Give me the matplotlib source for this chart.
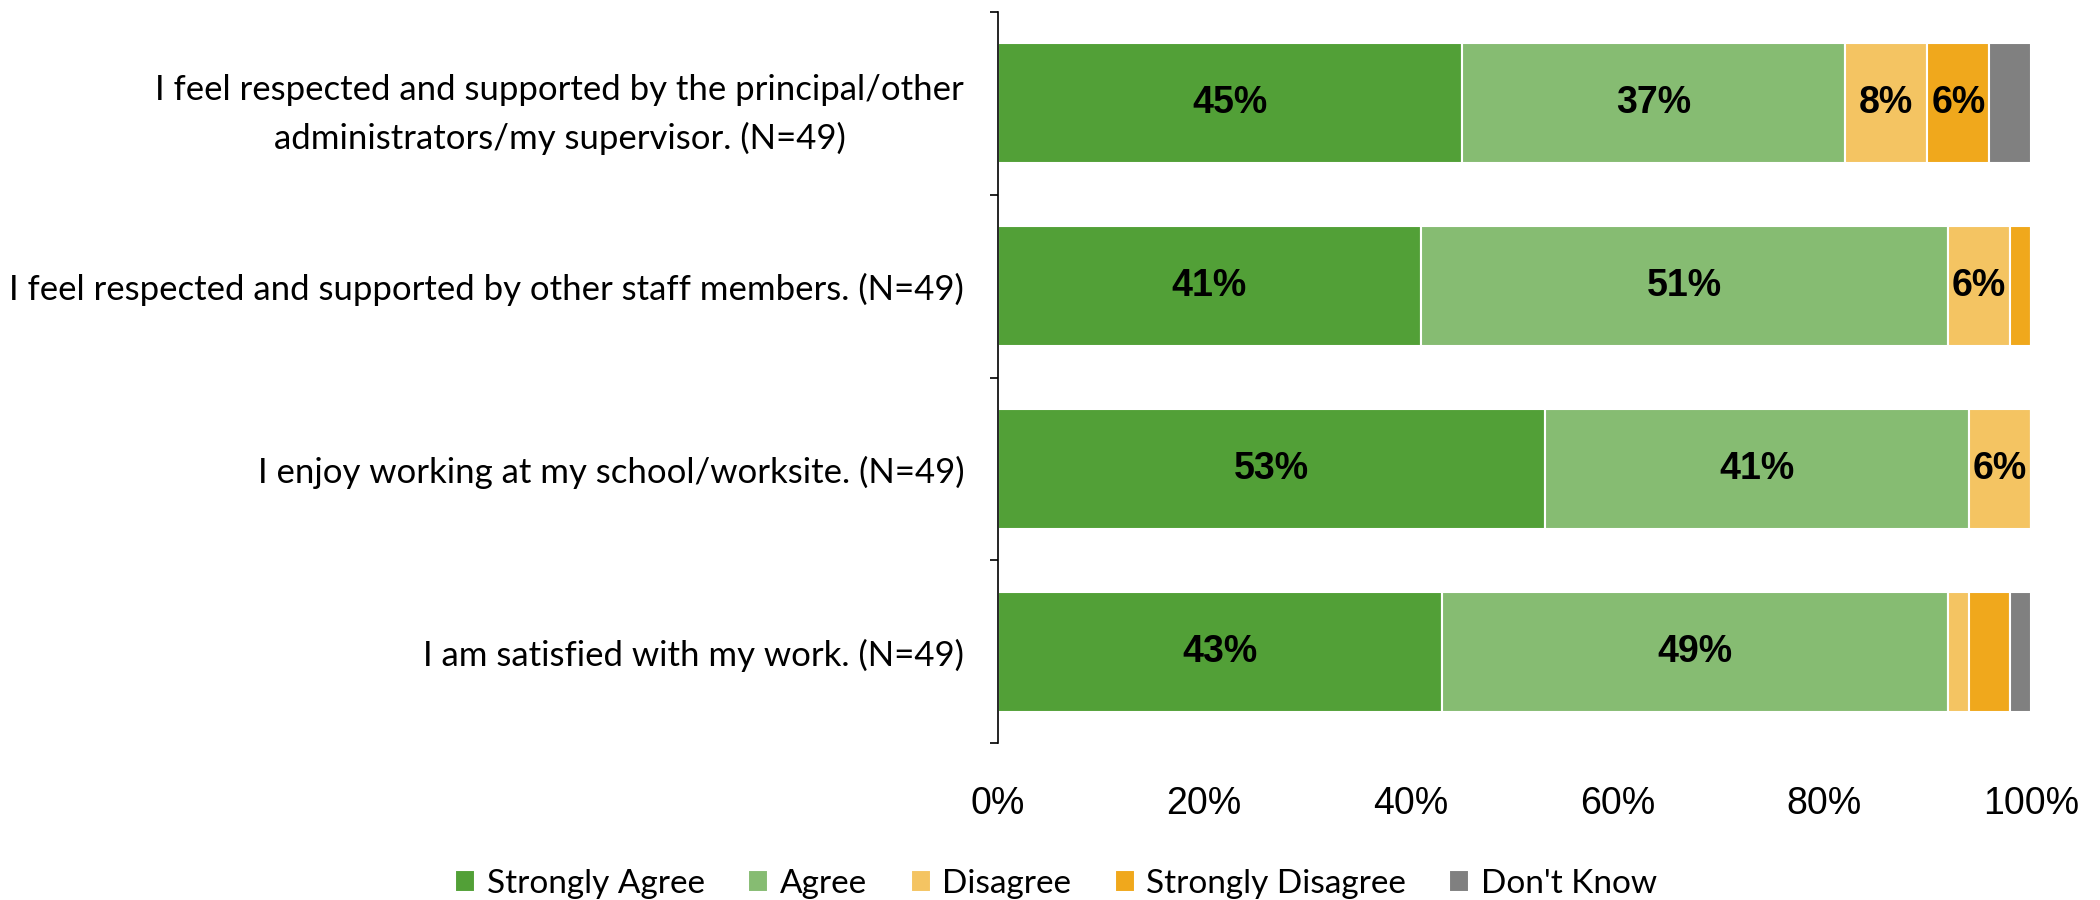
import matplotlib
matplotlib.use('Agg')
import matplotlib.pyplot as plt
import numpy as np

# Survey statements (top to bottom)
statements = [
    'I feel respected and supported by the principal/other\nadministrators/my supervisor. (N=49)',
    'I feel respected and supported by other staff members. (N=49)',
    'I enjoy working at my school/worksite. (N=49)',
    'I am satisfied with my work. (N=49)',
]

responses = ['Strongly Agree', 'Agree', 'Disagree', 'Strongly Disagree', "Don't Know"]
colors = ['#52a037', '#86bc72', '#f4c462', '#f0a81c', '#808080']

# percent per response, one list per statement
strongly_agree = [45, 41, 53, 43]
agree = [37, 51, 41, 49]
disagree = [8, 6, 6, 2]
strongly_disagree = [6, 2, 0, 4]
dont_know = [4, 0, 0, 2]

values = [strongly_agree, agree, disagree, strongly_disagree, dont_know]

label_font = ['Lato', 'DejaVu Sans']

fig = plt.figure(figsize=(21, 9), dpi=100)
ax = fig.add_axes([0.475, 0.174, 0.492, 0.813])

y = np.arange(len(statements))
left = np.zeros(len(statements))
for vals, name, col in zip(values, responses, colors):
    vals = np.array(vals, dtype=float)
    bars = ax.barh(y, vals, left=left, height=0.656, color=col,
                   edgecolor='white', linewidth=1.5, label=name)
    for b, v in zip(bars, vals):
        if v >= 5:
            ax.text(b.get_x() + b.get_width() / 2, b.get_y() + b.get_height() / 2,
                    f'{int(v)}%', ha='center', va='center', fontsize=27,
                    fontweight='bold', family='Liberation Sans', color='black')
    left += vals

ax.set_xlim(0, 100)
ax.set_ylim(len(statements) - 0.5, -0.5)
ax.set_xticks(np.arange(0, 101, 20))
ax.set_xticklabels([f'{t}%' for t in range(0, 101, 20)], family='Liberation Sans', fontsize=27)
ax.tick_params(axis='x', length=0, pad=31)

ax.set_yticks(y)
ax.set_yticklabels(statements, family=label_font, fontsize=25, ha='right',
                   multialignment='center', linespacing=1.6)
ax.tick_params(axis='y', which='major', length=0, pad=24)
ax.set_yticks(np.arange(-0.5, len(statements), 1), minor=True)
ax.tick_params(axis='y', which='minor', length=6, width=1.2, color='black')

for s in ['top', 'right', 'bottom']:
    ax.spines[s].set_visible(False)
ax.spines['left'].set_linewidth(1.2)

leg = fig.legend(loc='center', bbox_to_anchor=(0.503, 0.018), ncol=5, frameon=False,
                 prop={'family': label_font, 'size': 24}, handlelength=0.6, handleheight=0.6,
                 columnspacing=1.3, handletextpad=0.35)

fig.savefig('out.png', dpi=100)
